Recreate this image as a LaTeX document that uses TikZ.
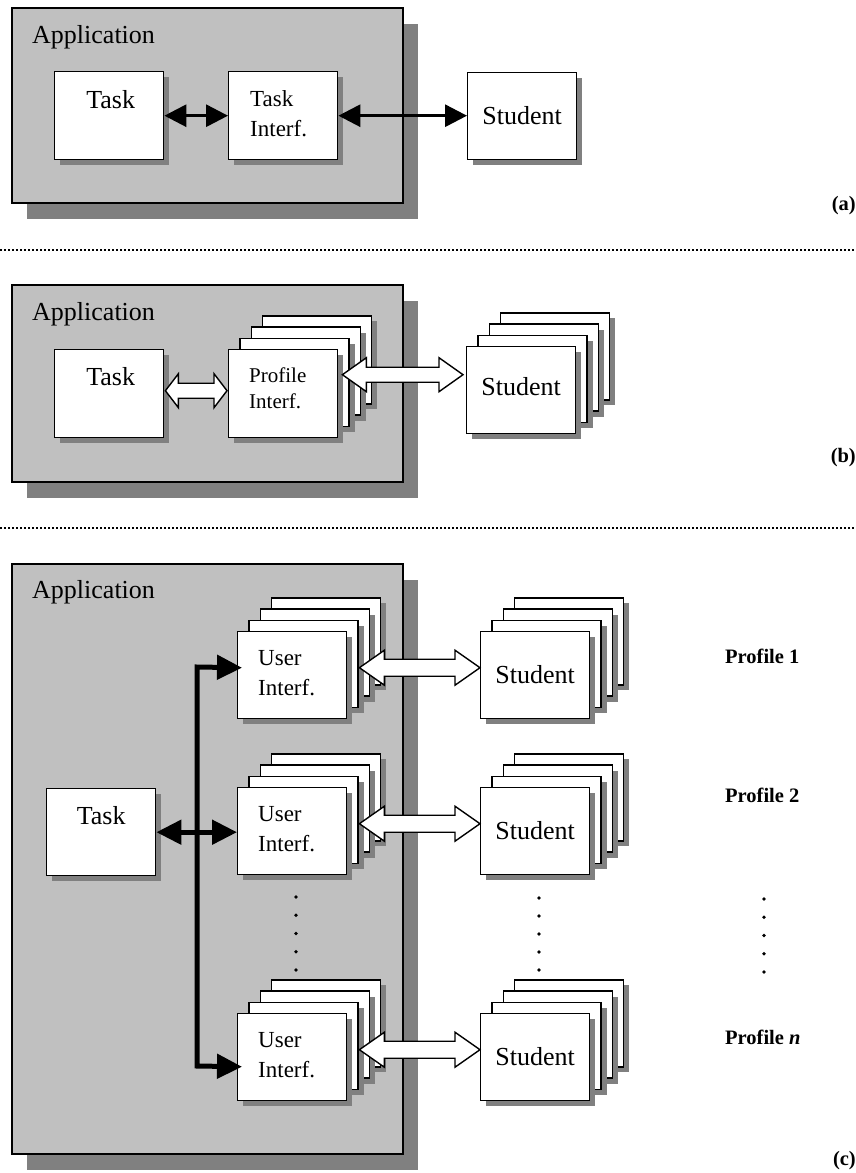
\documentclass[tikz,border=0pt]{standalone}
\usepackage{fontspec}
\setmainfont{Liberation Serif}
\usetikzlibrary{arrows.meta,shadows,calc}
\definecolor{appgray}{HTML}{C0C0C0}
\definecolor{shgray}{HTML}{808080}
\newcommand\cardstack[4]{%
  \foreach \k in {3,2,1}{\node[card,minimum height=#4pt] (#1-\k) at ({#2+11.3*\k},{#3-11.3*\k}) {};}
  \node[card,minimum height=#4pt] (#1) at (#2,#3) {};}
\newcommand\hollowarrow[5]{%
  \draw[hollow] let \p1=#1, \p2=#2 in
   (\x1,\y1) -- (\x1+#3pt,\y1+#4pt) -- (\x1+#3pt,\y1+#5pt) -- (\x2-#3pt,\y1+#5pt)
   -- (\x2-#3pt,\y1+#4pt) -- (\x2,\y1) -- (\x2-#3pt,\y1-#4pt) -- (\x2-#3pt,\y1-#5pt)
   -- (\x1+#3pt,\y1-#5pt) -- (\x1+#3pt,\y1-#4pt) -- cycle;}
\begin{document}
\begin{tikzpicture}[x=1pt,y=-1pt,
  card/.style={draw,fill=white,line width=1.4pt,minimum width=109pt,inner sep=0pt,anchor=north west,
    drop shadow={shadow xshift=5.5pt,shadow yshift=-5.5pt,fill=shgray,opacity=1}},
  appbox/.style={draw,fill=appgray,line width=1.5pt,minimum width=391pt,inner sep=0pt,anchor=north west,
    drop shadow={shadow xshift=15.5pt,shadow yshift=-16pt,fill=shgray,opacity=1}},
  bigtxt/.style={inner sep=0pt,font=\fontsize{26}{30}\selectfont},
  midtxt/.style={inner sep=0pt,align=left,anchor=north west,font=\fontsize{23}{30.5}\selectfont},
  smalltxt/.style={inner sep=0pt,align=left,anchor=north west,font=\fontsize{21}{26}\selectfont},
  tagtxt/.style={inner sep=0pt,font=\fontsize{20.5}{24}\selectfont\bfseries},
  hollow/.style={draw,fill=white,line width=1.4pt,line join=miter},
  arrA/.style={line width=3pt,{Triangle[length=22pt,width=22pt]}-{Triangle[length=22pt,width=22pt]}},
  bus/.style={line width=5pt,{Triangle[length=25pt,width=24pt]}-{Triangle[length=25pt,width=24pt]}},
  sepline/.style={line width=1.8pt,dash pattern=on 2pt off 2pt},
  dot/.style={fill=black}]
\useasboundingbox (0,0) rectangle (856,1173);

% separators
\coordinate (s1l) at (0,250); \coordinate (s1r) at (856,250);
\coordinate (s2l) at (0,528); \coordinate (s2r) at (856,528);
\draw[sepline] (s1l) -- (s1r);
\draw[sepline] (s2l) -- (s2r);

% ---------------- (a)
\node[appbox,minimum height=195pt] (appA) at (11,7) {};
\node[bigtxt,anchor=base west] (appAt) at (32,43) {Application};
\node[card,minimum height=88pt] (ta) at (54,71) {};
\node[bigtxt,anchor=base] (tat) at ([shift={(1.5,37)}]ta.north) {Task};
\node[card,minimum height=88pt] (tia) at (228,71) {};
\node[midtxt] (tiat) at (250,90.3) {Task\\Interf.};
\node[card,minimum height=87pt] (sa) at (467,72) {};
\node[bigtxt,anchor=base] (sat) at ([shift={(0,52)}]sa.north) {Student};
\draw[arrA] (ta.east) -- (tia.west);
\draw[arrA] (tia.east) -- (tia.east -| sa.west);
\node[tagtxt,anchor=base east] (taga) at (856,210) {(a)};

% ---------------- (b)
\node[appbox,minimum height=197pt] (appB) at (11,284) {};
\node[bigtxt,anchor=base west] (appBt) at (32,320) {Application};
\node[card,minimum height=88pt] (tb) at (54,349) {};
\node[bigtxt,anchor=base] (tbt) at ([shift={(1.5,36)}]tb.north) {Task};
\cardstack{pb}{228}{349}{88}
\node[smalltxt] (pbt) at (249,367.7) {Profile\\Interf.};
\cardstack{sb}{466}{346}{87}
\node[bigtxt,anchor=base] (sbt) at ([shift={(0,49)}]sb.north) {Student};
\hollowarrow{([shift={(1,-3)}]tb.east)}{([xshift=-1pt]pb.west)}{13}{17}{7.5}
\hollowarrow{([shift={(4,-19)}]pb.east)}{([xshift=-3pt]sb.west)}{24}{17}{7.5}
\node[tagtxt,anchor=base east] (tagb) at (856,462) {(b)};

% ---------------- (c)
\node[appbox,minimum height=590pt] (appC) at (11,563) {};
\node[bigtxt,anchor=base west] (appCt) at (32,598) {Application};
\node[card,minimum height=87pt] (tc) at (46,788) {};
\node[bigtxt,anchor=base] (tct) at ([shift={(0,36)}]tc.north) {Task};
\cardstack{ua}{237}{631}{87}
\cardstack{ub}{237}{787}{87}
\cardstack{uc}{237}{1013}{87}
\node[midtxt] (uat) at (258,649.8) {User\\Interf.};
\node[midtxt] (ubt) at (258,805.8) {User\\Interf.};
\node[midtxt] (uct) at (258,1031.8) {User\\Interf.};
\cardstack{sta}{480}{631}{87}
\cardstack{stb}{480}{787}{87}
\cardstack{stc}{480}{1013}{87}
\node[bigtxt,anchor=base] (stat) at ([shift={(0,52)}]sta.north) {Student};
\node[bigtxt,anchor=base] (stbt) at ([shift={(0,52)}]stb.north) {Student};
\node[bigtxt,anchor=base] (stct) at ([shift={(0,52)}]stc.north) {Student};
\coordinate (busT) at (197,667);
\coordinate (busB) at (197,1066);
\draw[bus,line join=miter] ([shift={(5,-7.5)}]ua.west) -- (busT) -- (busB) -- ([shift={(5,9.5)}]uc.west);
\draw[bus] (tc.east) -- (tc.east -| ub.west);
\hollowarrow{([shift={(12,-7.5)}]ua.east)}{(sta.west)}{25}{17.5}{8.5}
\hollowarrow{([shift={(12,-7.5)}]ub.east)}{(stb.west)}{25}{17.5}{8.5}
\hollowarrow{([shift={(12,-7.5)}]uc.east)}{(stc.west)}{25}{17.5}{8.5}
\foreach \yy in {897,915.25,933.5,951.75,970}{\fill[dot] (296,\yy) circle[radius=1.8pt];}
\foreach \yy in {898,916,934,952,970}{\fill[dot] (539,\yy) circle[radius=1.8pt];}
\foreach \yy in {899,917.25,935.5,953.75,972}{\fill[dot] (764,\yy) circle[radius=1.8pt];}
\node[tagtxt,anchor=base west] (p1) at (725,663) {Profile 1};
\node[tagtxt,anchor=base west] (p2) at (725,802) {Profile 2};
\node[tagtxt,anchor=base west] (pn) at (725,1044) {Profile \textit{n}};
\node[tagtxt,anchor=base east] (tagc) at (856,1165) {(c)};
\end{tikzpicture}
\end{document}
